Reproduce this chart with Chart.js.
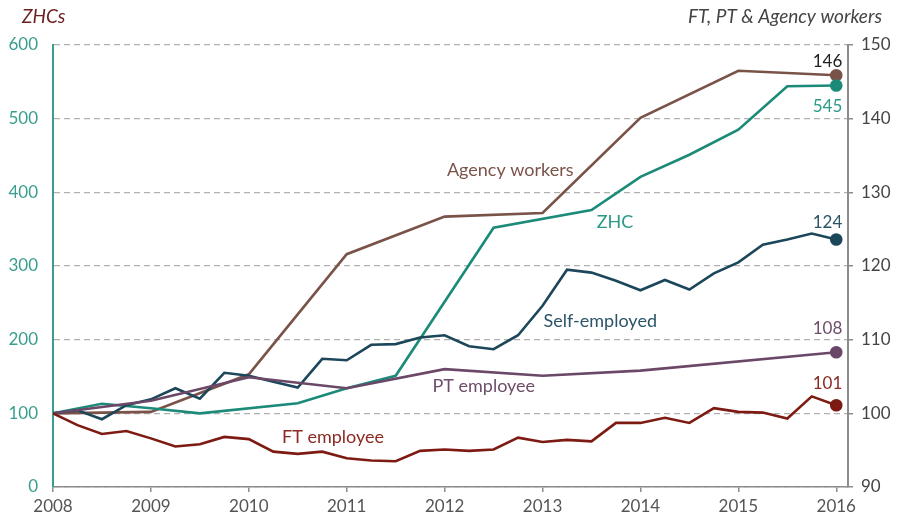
<!DOCTYPE html>
<html>
<head>
<meta charset="utf-8">
<script src="https://cdn.jsdelivr.net/npm/chart.js@4.4.1/dist/chart.umd.min.js"></script>
<style>
  html, body { margin: 0; padding: 0; background: #fff; }
  #wrap { width: 902px; height: 516px; position: relative; }
</style>
</head>
<body>
<div id="wrap"><canvas id="chart"></canvas></div>
<script>
// ---- data ----
const quarterYears = [2008, 2008.25, 2008.5, 2008.75, 2009, 2009.25, 2009.5, 2009.75,
    2010, 2010.25, 2010.5, 2010.75, 2011, 2011.25, 2011.5, 2011.75,
    2012, 2012.25, 2012.5, 2012.75, 2013, 2013.25, 2013.5, 2013.75,
    2014, 2014.25, 2014.5, 2014.75, 2015, 2015.25, 2015.5, 2015.75, 2016];

// FT employee (right axis, index 2008 = 100)
const ftValues = [100, 98.4, 97.2, 97.6, 96.6, 95.5, 95.8, 96.8,
    96.5, 94.8, 94.5, 94.8, 93.9, 93.6, 93.5, 94.9,
    95.1, 94.9, 95.1, 96.7, 96.1, 96.4, 96.2, 98.7,
    98.7, 99.4, 98.7, 100.7, 100.2, 100.1, 99.3, 102.3, 101.1];

// Self-employed (right axis)
const selfValues = [100, 100.4, 99.2, 101.1, 101.9, 103.4, 102.0, 105.5,
    105.1, 104.3, 103.5, 107.4, 107.2, 109.3, 109.4, 110.3,
    110.6, 109.1, 108.7, 110.6, 114.6, 119.5, 119.1, 118.0,
    116.7, 118.1, 116.8, 119.0, 120.5, 122.9, 123.6, 124.4, 123.6];

// PT employee (right axis)
const ptYears = [2008, 2009, 2010, 2011, 2012, 2013, 2014, 2016];
const ptValues = [100, 101.7, 104.9, 103.4, 106.0, 105.1, 105.8, 108.3];

// Agency workers (right axis)
const agencyYears = [2008, 2009, 2010, 2011, 2012, 2013, 2014, 2015, 2016];
const agencyValues = [100, 100.2, 105.3, 121.6, 126.7, 127.2, 140.1, 146.5, 145.9];

// ZHC (left axis)
const zhcYears = [2008, 2008.5, 2009, 2009.5, 2010.5, 2011, 2011.5, 2012.5, 2013.5, 2014, 2014.5, 2015, 2015.5, 2016];
const zhcValues = [100, 113, 107, 100, 113.6, 134, 151, 352, 376, 421, 451, 485, 544, 545];

const xTicks = [2008, 2009, 2010, 2011, 2012, 2013, 2014, 2015, 2016];

// series annotations: text, colour, x year, right-axis value
const seriesLabels = [
    { text: 'Agency workers', color: '#7b5349', x: 2012.67, y: 133.0 },
    { text: 'ZHC', color: '#2a9a87', x: 2013.74, y: 126.0 },
    { text: 'Self-employed', color: '#2b5468', x: 2013.59, y: 112.5 },
    { text: 'PT employee', color: '#6d4d6b', x: 2012.40, y: 103.7 },
    { text: 'FT employee', color: '#8b2a22', x: 2010.86, y: 96.8 }
];

const colors = {
    zhc: '#1b8a78',
    agency: '#7a5348',
    self: '#1c475a',
    pt: '#6b4768',
    ft: '#7d1a12',
    leftAxis: '#3a9e8e',
    grey: '#8c8c8c',
    grid: '#b0b0b0'
};

const FONT = "Lato, 'Open Sans', sans-serif";

function pts(xs, ys) {
    return xs.map((x, i) => ({ x: x, y: ys[i] }));
}

function series(label, xs, ys, color, axis, endText, endColor, endDy) {
    return {
        label: label,
        data: pts(xs, ys),
        yAxisID: axis,
        borderColor: color,
        backgroundColor: color,
        borderWidth: 2.6,
        tension: 0,
        pointRadius: ys.map((v, i) => i === ys.length - 1 ? 5 : 0),
        pointHoverRadius: 0,
        endText: endText,
        endColor: endColor,
        endDy: endDy
    };
}

const datasets = [
    series('FT employee', quarterYears, ftValues, colors.ft, 'y1', '101', '#8b2a22', -22),
    series('PT employee', ptYears, ptValues, colors.pt, 'y1', '108', '#6d4d6b', -24),
    series('Self-employed', quarterYears, selfValues, colors.self, 'y1', '124', '#2b5468', -17),
    series('ZHC', zhcYears, zhcValues, colors.zhc, 'y', '545', '#2a9a87', 21),
    series('Agency workers', agencyYears, agencyValues, colors.agency, 'y1', '146', '#222222', -14)
];

// text labels on the lines, end values and the two axis titles
const annotate = {
    id: 'annotate',
    afterDatasetsDraw(chart) {
        const ctx = chart.ctx;
        const xs = chart.scales.x, yr = chart.scales.y1;
        ctx.save();
        ctx.font = '18px ' + FONT;
        ctx.textBaseline = 'middle';
        ctx.textAlign = 'center';
        seriesLabels.forEach(l => {
            ctx.fillStyle = l.color;
            ctx.fillText(l.text, xs.getPixelForValue(l.x), yr.getPixelForValue(l.y));
        });

        ctx.font = '17px ' + FONT;
        ctx.textAlign = 'right';
        chart.data.datasets.forEach((ds, i) => {
            const meta = chart.getDatasetMeta(i);
            const last = meta.data[meta.data.length - 1];
            ctx.fillStyle = ds.endColor;
            ctx.fillText(ds.endText, last.x + 6, last.y + ds.endDy);
        });

        ctx.font = 'italic 19px ' + FONT;
        ctx.textAlign = 'left';
        ctx.fillStyle = '#6b1f1f';
        ctx.fillText('ZHCs', 22, 17);
        ctx.textAlign = 'right';
        ctx.fillStyle = '#444';
        ctx.fillText('FT, PT & Agency workers', 882, 17);
        ctx.restore();
    }
};

new Chart(document.getElementById('chart'), {
    type: 'line',
    data: { datasets: datasets },
    plugins: [annotate],
    options: {
        responsive: true,
        maintainAspectRatio: false,
        animation: false,
        layout: { padding: { top: 45, left: 0, right: 0, bottom: 0 } },
        plugins: { legend: { display: false }, tooltip: { enabled: false } },
        scales: {
            x: {
                type: 'linear',
                min: 2008,
                max: 2016.12,
                afterBuildTicks: s => { s.ticks = xTicks.map(v => ({ value: v })); },
                afterFit: s => { s.height = 29; },
                grid: { drawOnChartArea: false, drawTicks: true, tickLength: 5, color: colors.grey, lineWidth: 1.5 },
                border: { color: colors.grey, width: 1.5 },
                ticks: { color: '#555', font: { family: FONT, size: 17 }, padding: 4, maxRotation: 0,
                    callback: v => String(v) }
            },
            y: {
                position: 'left',
                min: 0,
                max: 600,
                afterFit: s => { s.width = 53; },
                ticks: { stepSize: 100, color: colors.leftAxis, font: { family: FONT, size: 17 }, padding: 15 },
                grid: { drawTicks: false, color: colors.grid, lineWidth: 1.3 },
                border: { color: colors.leftAxis, width: 2, dash: [6, 4] }
            },
            y1: {
                position: 'right',
                min: 90,
                max: 150,
                afterFit: s => { s.width = 54; },
                ticks: { stepSize: 10, color: '#444', font: { family: FONT, size: 17 }, padding: 8 },
                grid: { drawOnChartArea: false, drawTicks: true, tickLength: 5, color: colors.grey, lineWidth: 1.5 },
                border: { color: colors.grey, width: 2 }
            }
        }
    }
});
</script>
</body>
</html>
